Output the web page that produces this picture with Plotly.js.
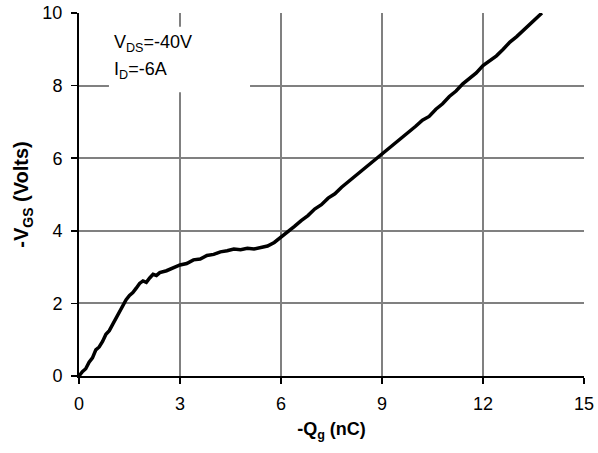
<!DOCTYPE html>
<html>
<head>
<meta charset="utf-8">
<script src="https://cdn.plot.ly/plotly-3.0.1.min.js"></script>
<style>html,body{margin:0;padding:0;background:#fff;}#chart{width:598px;height:453px;}</style>
</head>
<body>
<div id="chart"></div>
<script>
// Gate charge curve
const qg = [0, 0.1, 0.2, 0.3, 0.4, 0.5, 0.6, 0.7, 0.8, 0.9, 1.0, 1.1, 1.2, 1.3, 1.4, 1.5, 1.6, 1.7, 1.8, 1.9, 2.0, 2.1, 2.2, 2.3, 2.4, 2.6, 2.8, 3.0, 3.2, 3.4, 3.6, 3.8, 4.0, 4.2, 4.4, 4.6, 4.8, 5.0, 5.2, 5.4, 5.6, 5.8, 6.0, 6.2, 6.4, 6.6, 6.8, 7.0, 7.2, 7.4, 7.6, 7.8, 8.0, 8.2, 8.4, 8.6, 8.8, 9.0, 9.2, 9.4, 9.6, 9.8, 10.0, 10.2, 10.4, 10.6, 10.8, 11.0, 11.2, 11.4, 11.6, 11.8, 12.0, 12.2, 12.4, 12.6, 12.8, 13.0, 13.2, 13.4, 13.6, 13.75];
const vgs = [0, 0.12, 0.2, 0.38, 0.5, 0.72, 0.8, 0.95, 1.15, 1.25, 1.42, 1.6, 1.78, 1.95, 2.1, 2.22, 2.3, 2.42, 2.55, 2.62, 2.58, 2.7, 2.8, 2.77, 2.85, 2.9, 2.97, 3.06, 3.1, 3.2, 3.22, 3.32, 3.35, 3.42, 3.45, 3.5, 3.48, 3.52, 3.5, 3.55, 3.58, 3.68, 3.82, 3.95, 4.12, 4.28, 4.42, 4.6, 4.72, 4.9, 5.02, 5.2, 5.35, 5.5, 5.68, 5.8, 5.98, 6.12, 6.25, 6.4, 6.55, 6.72, 6.88, 7.05, 7.15, 7.35, 7.5, 7.7, 7.85, 8.05, 8.2, 8.35, 8.55, 8.68, 8.82, 9.0, 9.2, 9.35, 9.52, 9.68, 9.85, 10.0];
const xTicks = [0, 3, 6, 9, 12, 15];
const yTicks = [0, 2, 4, 6, 8, 10];

const trace = {
  x: qg, y: vgs, type: 'scatter', mode: 'lines',
  line: {color: '#000', width: 3.5}, hoverinfo: 'skip'
};

const layout = {
  width: 598, height: 453,
  margin: {l: 79, r: 14, t: 13, b: 77},
  paper_bgcolor: '#fff', plot_bgcolor: '#fff',
  showlegend: false,
  font: {family: 'Liberation Sans, Arial, sans-serif', size: 18, color: '#000'},
  xaxis: {
    range: [0, 15], tickvals: xTicks, ticktext: xTicks.map(String),
    showgrid: true, gridcolor: '#808080', gridwidth: 2,
    showline: true, linecolor: '#000', linewidth: 2,
    ticks: 'outside', ticklen: 6, tickcolor: '#000', tickwidth: 1.5,
    ticklabelstandoff: 4,
    zeroline: false, fixedrange: true,
    tickfont: {size: 18},
    title: {text: '<b>-Q<sub>g</sub> (nC)</b>', font: {size: 18}, standoff: 10}
  },
  yaxis: {
    range: [0, 10], tickvals: yTicks, ticktext: yTicks.map(String),
    showgrid: true, gridcolor: '#808080', gridwidth: 2,
    showline: true, linecolor: '#000', linewidth: 2,
    ticks: 'outside', ticklen: 6, tickcolor: '#000', tickwidth: 1.5,
    ticklabelstandoff: 5,
    zeroline: false, fixedrange: true,
    tickfont: {size: 18},
    title: {text: '<b>-V<sub>GS</sub> (Volts)</b>', font: {size: 20}, standoff: 8}
  },
  shapes: [{
    type: 'rect', xref: 'x', yref: 'y', x0: 0.89, x1: 5.08, y0: 7.82, y1: 9.62,
    fillcolor: '#fff', line: {width: 0}, layer: 'above'
  }],
  annotations: [
    {xref: 'x', yref: 'y', x: 0.98, y: 9.17, xanchor: 'left', yanchor: 'middle',
     text: 'V<sub>DS</sub>=-40V', showarrow: false, font: {size: 18}},
    {xref: 'x', yref: 'y', x: 0.98, y: 8.42, xanchor: 'left', yanchor: 'middle',
     text: 'I<sub>D</sub>=-6A', showarrow: false, font: {size: 18}}
  ]
};

Plotly.newPlot('chart', [trace], layout, {displayModeBar: false, staticPlot: true});
</script>
</body>
</html>
